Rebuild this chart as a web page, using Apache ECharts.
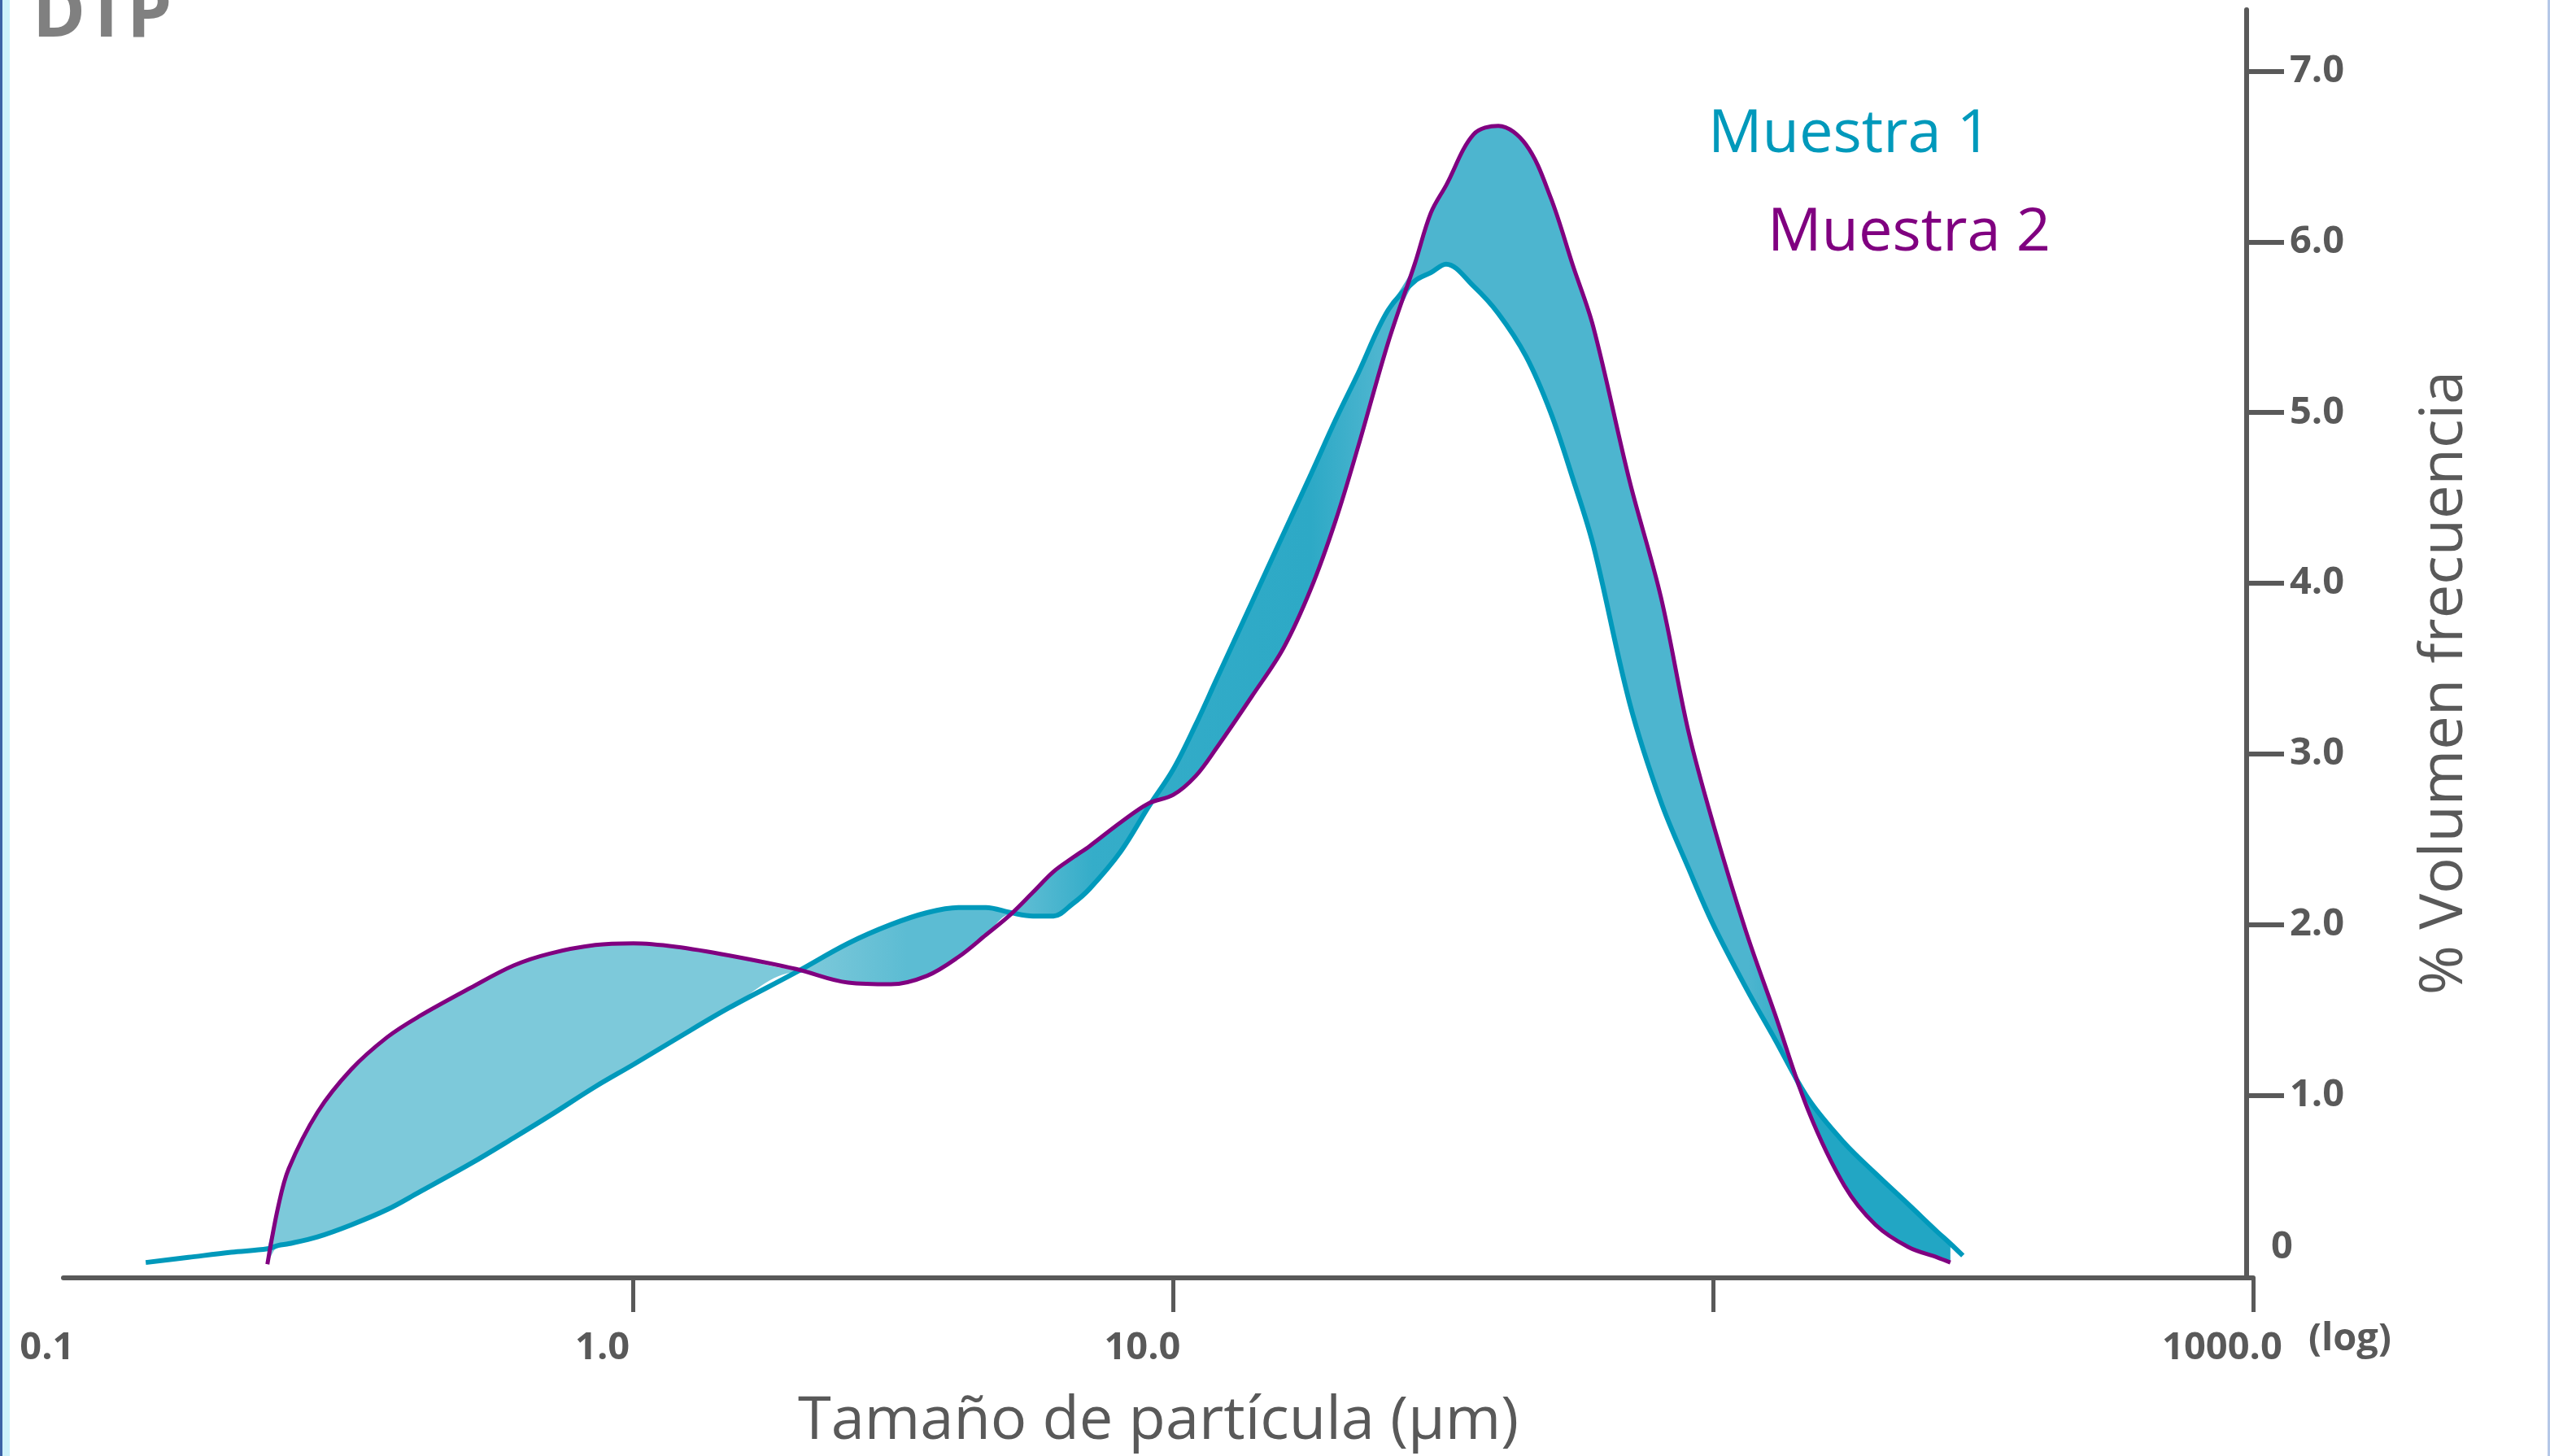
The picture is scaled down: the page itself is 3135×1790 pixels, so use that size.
<!DOCTYPE html>
<html>
<head>
<meta charset="utf-8">
<title>DTP</title>
<script src="https://cdn.jsdelivr.net/npm/echarts@6/dist/echarts.min.js"></script>
<style>
  html, body { margin: 0; padding: 0; background: #fff; }
  #chart { width: 3135px; height: 1790px; }
</style>
</head>
<body>
<div id="chart"></div>
<script>
  // particle size (µm)
  const sizes = [0.125, 0.15, 0.18, 0.21, 0.22, 0.23, 0.26, 0.3, 0.35, 0.4, 0.5, 0.6, 0.7, 0.85,
    1.0, 1.2, 1.5, 2.0, 2.5, 3.0, 3.5, 4.0, 4.5, 5.0, 5.5, 6.0, 6.5, 7.0, 8.0, 9.0,
    10, 11, 12, 14, 16, 18, 20, 22, 25, 28, 30, 32, 36, 40, 45, 50, 55, 60, 70, 80, 90,
    100, 115, 130, 150, 175, 200, 230, 260, 275, 290];
  // % volumen frecuencia
  const muestra1 = [0.02, 0.05, 0.08, 0.10, 0.12, 0.13, 0.17, 0.24, 0.33, 0.43, 0.60, 0.75, 0.88, 1.05,
    1.18, 1.33, 1.51, 1.72, 1.89, 2.00, 2.07, 2.10, 2.10, 2.07, 2.05, 2.05, 2.12, 2.21, 2.43, 2.69,
    2.91, 3.17, 3.43, 3.89, 4.29, 4.64, 4.96, 5.23, 5.60, 5.77, 5.82, 5.87, 5.74, 5.58, 5.33, 5.00, 4.61, 4.22, 3.30, 2.72, 2.33,
    2.00, 1.63, 1.33, 0.98, 0.72, 0.54, 0.36, 0.20, 0.13, 0.06];
  const muestra2 = [null, null, null, 0.01, 0.35, 0.57, 0.90, 1.15, 1.34, 1.46, 1.63, 1.76, 1.83, 1.88,
    1.89, 1.87, 1.82, 1.74, 1.66, 1.65, 1.70, 1.81, 1.94, 2.06, 2.19, 2.31, 2.39, 2.46, 2.60, 2.71,
    2.76, 2.87, 3.03, 3.34, 3.62, 3.97, 4.37, 4.80, 5.41, 5.87, 6.17, 6.33, 6.63, 6.68, 6.57, 6.26, 5.86, 5.50, 4.60, 3.92, 3.13,
    2.59, 1.96, 1.48, 0.91, 0.47, 0.24, 0.11, 0.05, 0.02, null];

  const xTicks = [1, 10, 100, 1000];
  const xLabels = [0.1, 1, 10, 1000];
  const yTicks = [1, 2, 3, 4, 5, 6, 7];
  const yLabels = [0, 1, 2, 3, 4, 5, 6, 7];

  const grey = '#595959';
  const teal = '#0099BB';
  const purple = '#800080';
  const font = '"Open Sans", "Noto Sans", sans-serif';

  const pts1 = sizes.map((s, i) => [s, muestra1[i]]).filter((p) => p[1] != null);
  const pts2 = sizes.map((s, i) => [s, muestra2[i]]).filter((p) => p[1] != null);
  // band between the two samples: upper envelope filled, lower envelope blanked out
  const both = sizes.map((s, i) => i).filter((i) => muestra1[i] != null && muestra2[i] != null);
  const bandHigh = both.map((i) => [sizes[i], Math.max(muestra1[i], muestra2[i])]);
  const bandLow = both.map((i) => [sizes[i], Math.min(muestra1[i], muestra2[i])]);

  const tickFont = { fontFamily: font, fontSize: 47, fontWeight: 'bold', color: grey };
  const smooth = 0.35;

  const chart = echarts.init(document.getElementById('chart'));
  chart.setOption({
    animation: false,
    backgroundColor: '#fff',
    grid: { left: 78, right: 365, top: 12, bottom: 217 },
    xAxis: {
      type: 'log',
      logBase: 10,
      min: 0.088,
      max: 1000,
      name: 'Tamaño de partícula (µm)',
      nameLocation: 'middle',
      nameGap: 140,
      nameTextStyle: { fontFamily: font, fontSize: 74, color: grey },
      axisLine: { show: true, onZero: false, lineStyle: { color: grey, width: 6 } },
      axisTick: { show: true, customValues: xTicks, length: 42, lineStyle: { color: grey, width: 5 } },
      minorTick: { show: false },
      splitLine: { show: false },
      axisLabel: {
        customValues: xLabels,
        margin: 63,
        formatter: (v) => '{' + (v < 0.5 ? 'f' : 'n') + '|' + v.toFixed(1) + '}',
        rich: {
          f: Object.assign({ padding: [0, 114, 0, 0] }, tickFont),
          n: Object.assign({ padding: [0, 76, 0, 0] }, tickFont),
        },
      },
    },
    yAxis: {
      type: 'value',
      position: 'right',
      offset: -8,
      min: -0.07,
      max: 7.36,
      name: '% Volumen frecuencia',
      nameLocation: 'middle',
      nameRotate: 90,
      nameGap: 207,
      nameTextStyle: { fontFamily: font, fontSize: 74, color: grey, padding: [0, 96, 0, 0] },
      axisLine: { show: true, onZero: false, lineStyle: { color: grey, width: 6 } },
      axisTick: { show: true, customValues: yTicks, length: 46, lineStyle: { color: grey, width: 6 } },
      splitLine: { show: false },
      axisLabel: {
        customValues: yLabels,
        margin: 30,
        formatter: (v) => (v === 0 ? '{z|0}' : '{n|' + v.toFixed(1) + '}'),
        rich: {
          z: Object.assign({ padding: [0, 0, 46, 0] }, tickFont),
          n: Object.assign({ padding: [0, 0, 0, 23] }, tickFont),
        },
      },
    },
    graphic: [
      { type: 'rect', z: 10, shape: { x: 0, y: 0, width: 3, height: 1790 }, style: { fill: '#3C63A6' } },
      { type: 'rect', z: 10, shape: { x: 3, y: 0, width: 9, height: 1790 }, style: { fill: '#CDF2FB' } },
      { type: 'rect', z: 10, shape: { x: 3132, y: 0, width: 3, height: 1790 }, style: { fill: '#B4C7E7' } },
      {
        type: 'text', z: 10, x: 40, y: 20,
        style: { text: 'DTP', fill: '#808080', font: 'bold 88px ' + font, align: 'left', verticalAlign: 'middle' },
      },
      {
        type: 'text', z: 10, x: 2100, y: 166,
        style: { text: 'Muestra 1', fill: teal, font: '74px ' + font, align: 'left', verticalAlign: 'middle' },
      },
      {
        type: 'text', z: 10, x: 2173, y: 287,
        style: { text: 'Muestra 2', fill: purple, font: '74px ' + font, align: 'left', verticalAlign: 'middle' },
      },
      {
        type: 'text', z: 10, x: 2838, y: 1647,
        style: { text: '(log)', fill: grey, font: 'bold 47px ' + font, align: 'left', verticalAlign: 'middle' },
      },
    ],
    series: [
      {
        name: 'banda',
        type: 'line',
        data: bandHigh,
        symbol: 'none',
        smooth: smooth,
        lineStyle: { opacity: 0 },
        areaStyle: {
          opacity: 1,
          origin: 0.03,
          color: new echarts.graphic.LinearGradient(0, 0, 1, 0, [
            { offset: 0, color: '#7DC9DA' },
            { offset: 0.32, color: '#7DC9DA' },
            { offset: 0.38, color: '#5CBCD3' },
            { offset: 0.45, color: '#5CBCD3' },
            { offset: 0.49, color: '#35ADC9' },
            { offset: 0.62, color: '#2DA9C6' },
            { offset: 0.66, color: '#4DB5CF' },
            { offset: 0.88, color: '#4DB5CF' },
            { offset: 0.92, color: '#22A6C4' },
            { offset: 1, color: '#22A6C4' },
          ]),
        },
        silent: true,
        z: 1,
      },
      {
        name: 'base',
        type: 'line',
        data: bandLow,
        symbol: 'none',
        smooth: smooth,
        lineStyle: { opacity: 0 },
        areaStyle: { color: '#fff', opacity: 1, origin: 0 },
        silent: true,
        z: 2,
      },
      {
        name: 'Muestra 1',
        type: 'line',
        data: pts1,
        symbol: 'none',
        smooth: smooth,
        lineStyle: { color: teal, width: 6 },
        itemStyle: { color: teal },
        z: 3,
      },
      {
        name: 'Muestra 2',
        type: 'line',
        data: pts2,
        symbol: 'none',
        smooth: smooth,
        lineStyle: { color: purple, width: 5 },
        itemStyle: { color: purple },
        z: 4,
      },
    ],
  });
</script>
</body>
</html>
